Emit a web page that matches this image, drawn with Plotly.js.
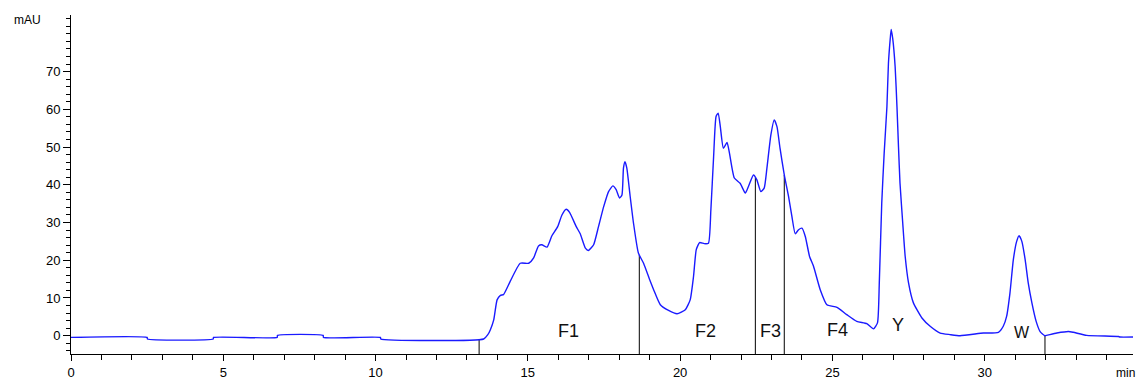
<!DOCTYPE html>
<html>
<head>
<meta charset="utf-8">
<script src="https://cdn.plot.ly/plotly-3.0.1.min.js"></script>
<style>html,body{margin:0;padding:0;background:#fff;}#chart{width:1138px;height:380px;}</style>
</head>
<body>
<div id="chart"></div>
<script>
// Retention time (min)
const timeMin = [0,2.5,2.51,4.67,4.68,6.77,6.78,8.28,8.29,10.16,10.17,13.55,13.68,13.77,13.88,13.99,14.1,14.2,14.42,14.75,15.03,15.19,15.35,15.46,15.63,15.79,15.98,16.12,16.26,16.37,16.59,16.72,16.89,16.99,17.16,17.32,17.49,17.65,17.79,17.9,18.01,18.09,18.14,18.19,18.25,18.36,18.47,18.63,18.8,19.02,19.13,19.35,19.62,19.9,20.17,20.33,20.44,20.53,20.64,20.79,20.93,21.01,21.1,21.18,21.25,21.32,21.42,21.54,21.62,21.78,21.97,22.14,22.24,22.41,22.52,22.65,22.76,22.85,22.98,23.09,23.18,23.28,23.42,23.56,23.67,23.78,23.89,24.0,24.11,24.25,24.38,24.6,24.82,25.15,25.47,25.8,26.13,26.35,26.48,26.54,26.62,26.7,26.79,26.84,26.9,26.93,26.98,27.06,27.12,27.17,27.22,27.31,27.39,27.5,27.66,27.94,28.21,28.54,28.86,29.19,29.96,30.45,30.61,30.72,30.83,30.94,31.05,31.13,31.22,31.33,31.43,31.55,31.69,31.82,31.98,32.14,32.37,32.75,32.91,33.35,34.39,34.44,34.87];
// Absorbance (mAU)
const absorbance = [-0.45,-0.45,-0.87,-0.87,-0.45,-0.45,0.08,0.08,-0.45,-0.45,-0.87,-0.87,0.2,1.6,4.2,9.5,10.7,10.9,14.4,19.2,19.2,20.6,23.8,24.1,23.5,26.5,28.9,32.0,33.5,32.7,28.9,27.0,23.2,22.6,24.1,28.9,34.2,38.2,39.7,38.7,36.5,37.3,44.4,46.1,44.4,36.9,29.8,21.9,19.2,14.4,12.2,8.2,6.7,5.8,6.9,9.5,15.7,22.8,24.7,24.4,24.5,33.4,47.5,58.1,59.0,55.4,49.7,51.2,48.4,41.8,40.4,37.8,39.5,42.6,41.3,38.2,39.1,44.4,53.2,57.2,55.4,49.7,42.6,36.9,31.6,27.0,28.1,28.5,26.3,21.0,18.4,12.2,8.2,7.5,5.6,3.8,3.2,1.8,3.4,14.0,35.1,48.4,60.7,72.2,78.8,81.2,78.8,71.3,60.7,50.1,40.4,29.8,21.0,14.0,8.7,4.7,2.5,0.7,0.3,0.0,0.7,0.9,2.5,5.1,11.3,20.1,25.0,26.5,25.0,20.1,14.0,8.7,3.8,1.1,0.0,0.3,0.7,1.1,0.9,0.1,-0.2,-0.35,-0.35];

// Fraction cut times (min)
const cutTimes = [13.4, 18.66, 22.47, 23.42, 31.98];
// Fraction labels
const labelNames = ["F1","F2","F3","F4","Y","W"];
const labelX = [16.35, 20.82, 22.96, 25.16, 27.17, 31.23];
const labelY = [1.3, 1.2, 1.3, 1.6, 2.8, 0.8];

const xTickVals = [0,5,10,15,20,25,30];
const yTickVals = [0,10,20,30,40,50,60,70];

const yMin = -4.85, yMax = 85, xMax = 34.87;

function interp(t){
  for(let i=1;i<timeMin.length;i++){
    if(timeMin[i] >= t){
      const t0=timeMin[i-1], t1=timeMin[i];
      const f = (t - t0)/(t1 - t0);
      return absorbance[i-1] + f*(absorbance[i]-absorbance[i-1]);
    }
  }
  return absorbance[absorbance.length-1];
}

const cutX = [], cutY = [];
cutTimes.forEach(t => { cutX.push(t,t,null); cutY.push(interp(t), yMin, null); });

const traces = [
  {x: cutX, y: cutY, type:'scatter', mode:'lines', line:{color:'#000000', width:1}, hoverinfo:'skip', showlegend:false},
  {x: timeMin, y: absorbance, type:'scatter', mode:'lines', line:{color:'#1a1aff', width:1.4, shape:'spline', smoothing:0.5}, hoverinfo:'skip', showlegend:false}
];

const annotations = labelNames.map((n,i)=>({
  x: labelX[i], y: labelY[i], xref:'x', yref:'y', text:n, showarrow:false,
  xanchor:'center', yanchor:'middle',
  font:{family:'Liberation Sans, Arial, sans-serif', size: (n==='W'?16:18), color:'#111'}
}));
annotations.push({xref:'paper', yref:'paper', x:-0.041, y:0.985, text:'mAU', showarrow:false, xanchor:'center', yanchor:'middle', font:{family:'Liberation Sans, Arial, sans-serif', size:12, color:'#000'}});
annotations.push({xref:'paper', yref:'paper', x:0.993, y:-0.055, text:'min', showarrow:false, xanchor:'center', yanchor:'middle', font:{family:'Liberation Sans, Arial, sans-serif', size:12, color:'#000'}});

const layout = {
  width:1138, height:380,
  margin:{l:71, r:5, t:15, b:26, pad:0},
  paper_bgcolor:'#ffffff', plot_bgcolor:'#ffffff',
  font:{family:'Liberation Sans, Arial, sans-serif', size:13, color:'#000'},
  xaxis:{
    range:[0, xMax], showgrid:false, zeroline:false, showline:true, linecolor:'#000', linewidth:1,
    ticks:'outside', ticklen:6, tickcolor:'#000', tickvals:xTickVals, ticktext:xTickVals.map(String),
    minor:{dtick:1, ticks:'outside', ticklen:5, tickcolor:'#000', showgrid:false},
    tickfont:{size:13}
  },
  yaxis:{
    range:[yMin, yMax], showgrid:false, zeroline:false, showline:true, linecolor:'#000', linewidth:1,
    ticks:'outside', ticklen:7, tickcolor:'#000', tickvals:yTickVals, ticktext:yTickVals.map(String),
    minor:{dtick:2, ticks:'outside', ticklen:4, tickcolor:'#000', showgrid:false},
    tickfont:{size:13}
  },
  annotations: annotations,
  showlegend:false
};

Plotly.newPlot('chart', traces, layout, {staticPlot:true, displayModeBar:false});
</script>
</body>
</html>
